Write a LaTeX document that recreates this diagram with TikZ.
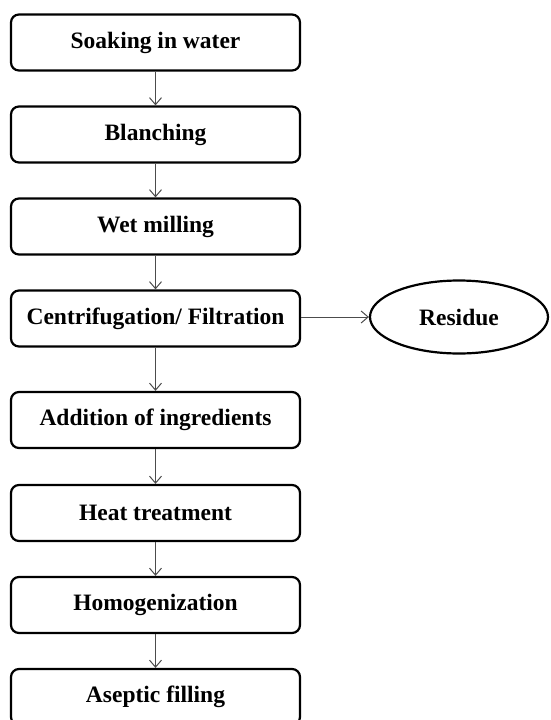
\documentclass[tikz,border=0pt]{standalone}
\usepackage{fontspec}
\setmainfont{Liberation Serif}
\usetikzlibrary{arrows.meta,shapes.geometric}
\begin{document}
\begin{tikzpicture}[x=1pt,y=-1pt,
  stepbox/.style={draw=black,line width=2.2pt,rounded corners=8pt,minimum width=289pt,minimum height=56pt,inner sep=0pt,font=\fontsize{23.5}{27}\selectfont\bfseries},
  resid/.style={draw=black,line width=2.2pt,ellipse,minimum width=178pt,minimum height=73pt,inner sep=0pt,font=\fontsize{23.5}{27}\selectfont\bfseries},
  flow/.style={draw=black!70,line width=1pt,-{Straight Barb[length=7pt,width=12pt,line width=1pt]}}]
\useasboundingbox (0,0) rectangle (550,720);
\begin{scope}
\clip (0,0) rectangle (550,720);
\node[stepbox] (s1) at (155.5,42.5) {Soaking in water};
\node[stepbox] (s2) at (155.5,134.5) {Blanching};
\node[stepbox] (s3) at (155.5,226.5) {Wet milling};
\node[stepbox] (s4) at (155.5,318.5) {Centrifugation/ Filtration};
\node[stepbox] (s5) at (155.5,420) {Addition of ingredients};
\node[stepbox] (s6) at (155.5,513) {Heat treatment};
\node[stepbox] (s7) at (155.5,605) {Homogenization};
\node[stepbox] (s8) at (155.5,697) {Aseptic filling};
\node[resid] (r) at (459,317) {Residue};
\draw[flow] (s1) -- (s2);
\draw[flow] (s2) -- (s3);
\draw[flow] (s3) -- (s4);
\draw[flow] (s4) -- (s5);
\draw[flow] (s5) -- (s6);
\draw[flow] (s6) -- (s7);
\draw[flow] (s7) -- (s8);
\draw[flow] (s4.east |- r.west) -- (r.west);
\end{scope}
\end{tikzpicture}
\end{document}
